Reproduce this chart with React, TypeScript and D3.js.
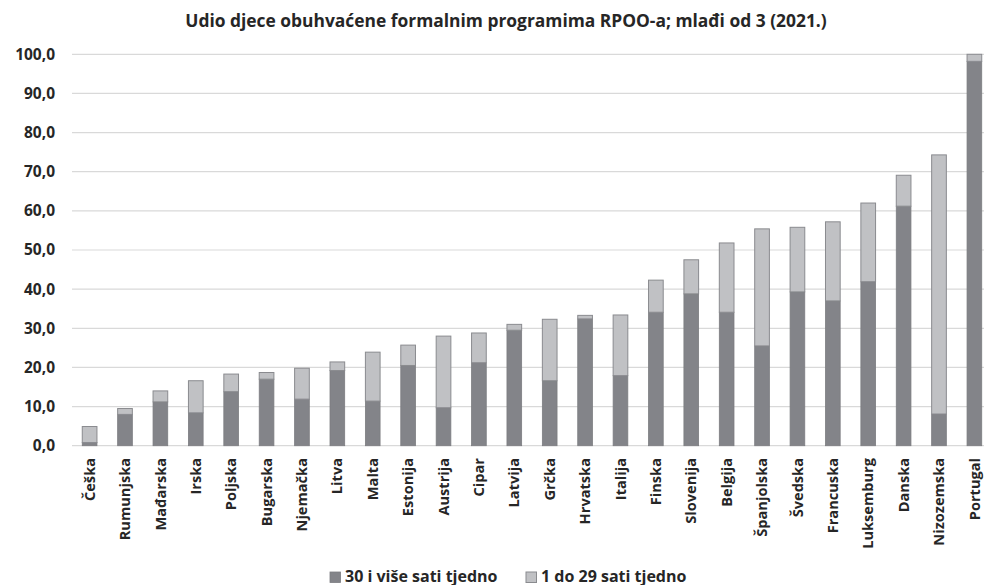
import React from 'react';
import * as d3 from 'd3';

// kategorije i vrijednosti (očitano sa slike)
const countries = [
  'Češka', 'Rumunjska', 'Mađarska', 'Irska', 'Poljska', 'Bugarska', 'Njemačka', 'Litva', 'Malta',
  'Estonija', 'Austrija', 'Cipar', 'Latvija', 'Grčka', 'Hrvatska', 'Italija', 'Finska', 'Slovenija',
  'Belgija', 'Španjolska', 'Švedska', 'Francuska', 'Luksemburg', 'Danska', 'Nizozemska', 'Portugal',
];
const over30 = [
  0.8, 8.0, 11.2, 8.4, 13.8, 17.0, 11.9, 19.2, 11.4, 20.5, 9.7, 21.2, 29.5, 16.6, 32.4, 17.9, 34.1,
  38.8, 34.1, 25.5, 39.3, 37.0, 41.9, 61.2, 8.1, 98.2,
];
const from1to29 = [
  4.1, 1.5, 2.8, 8.2, 4.5, 1.7, 7.9, 2.2, 12.5, 5.2, 18.3, 7.6, 1.5, 15.7, 0.9, 15.5, 8.2,
  8.7, 17.7, 29.9, 16.5, 20.2, 20.1, 7.9, 66.2, 1.8,
];
const yTicks = [0, 10, 20, 30, 40, 50, 60, 70, 80, 90, 100];
const seriesNames = ['30 i više sati tjedno', '1 do 29 sati tjedno'];

const W = 984;
const H = 585;
const FONT = '"Open Sans", sans-serif';
const DARK = '#838489';
const LIGHT = '#c0c1c4';
const TEXT = '#262626';

const App = () => {
  const x = d3.scaleBand<string>().domain(countries).range([72, 992]).paddingInner(0.585).paddingOuter(0.29);
  const y = d3.scaleLinear().domain([0, 100]).range([445.7, 54.3]);
  const bw = x.bandwidth();
  const fmt = (v: number) => d3.format('.1f')(v).replace('.', ',');

  return (
    <svg width={W} height={H} style={{ display: 'block', position: 'absolute', left: 0, top: 0 }}>
      <rect width={W} height={H} fill="#fff" />
      <text x={506} y={27} textAnchor="middle" fontFamily={FONT} fontWeight="bold" fontSize={17.4} fill={TEXT}>
        Udio djece obuhvaćene formalnim programima RPOO-a; mlađi od 3 (2021.)
      </text>

      {yTicks.map(t => (
        <g key={t}>
          <line x1={72} x2={W} y1={y(t)} y2={y(t)} stroke="#d9d9d9" strokeWidth={1.2} />
          <text x={55} y={y(t)} dy="0.35em" textAnchor="end" fontFamily={FONT} fontWeight="bold" fontSize={15.5} fill={TEXT}>
            {fmt(t)}
          </text>
        </g>
      ))}

      {countries.map((c, i) => {
        const x0 = x(c) as number;
        const a = over30[i];
        const b = from1to29[i];
        return (
          <g key={c}>
            <rect x={x0} y={y(a)} width={bw} height={y(0) - y(a)} fill={DARK} stroke="#7c7d81" strokeWidth={0.8} />
            <rect x={x0} y={y(a + b)} width={bw} height={y(a) - y(a + b)} fill={LIGHT} stroke="#8a8b8f" strokeWidth={1} />
            <text
              transform={`translate(${x0 + bw / 2},458) rotate(-90)`}
              dy="0.35em"
              textAnchor="end"
              fontFamily={FONT}
              fontWeight="bold"
              fontSize={14.6}
              fill={TEXT}
            >
              {c}
            </text>
          </g>
        );
      })}

      <g fontFamily={FONT} fontWeight="bold" fontSize={16} fill={TEXT}>
        <rect x={330} y={572} width={10.5} height={10.5} fill={DARK} stroke="#7c7d81" strokeWidth={0.8} />
        <text x={345} y={581.5}>{seriesNames[0]}</text>
        <rect x={526} y={572} width={10.5} height={10.5} fill={LIGHT} stroke="#8a8b8f" strokeWidth={1} />
        <text x={541} y={581.5}>{seriesNames[1]}</text>
      </g>
    </svg>
  );
};

export default App;
